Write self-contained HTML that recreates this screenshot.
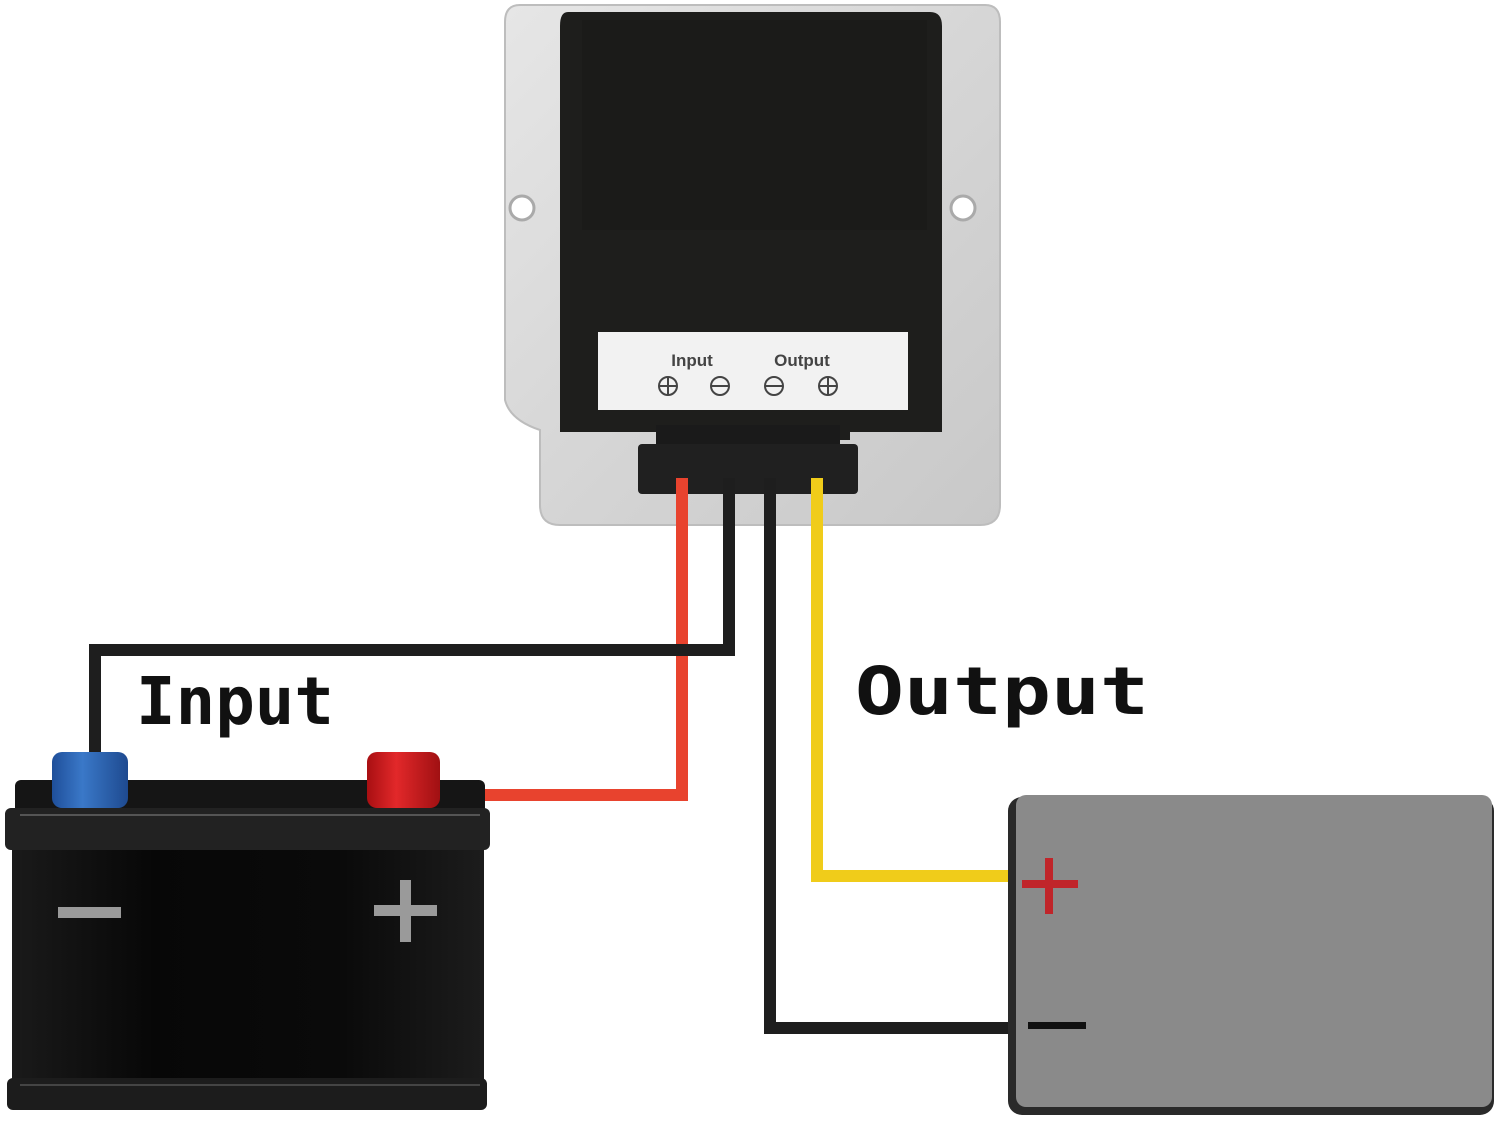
<!DOCTYPE html>
<html><head><meta charset="utf-8"><style>
html,body{margin:0;padding:0;background:#fff;}
svg{display:block;}
</style></head><body>
<svg width="1500" height="1126" viewBox="0 0 1500 1126" xmlns="http://www.w3.org/2000/svg">
<defs>
<linearGradient id="sil" x1="0" y1="0" x2="1" y2="1">
<stop offset="0" stop-color="#e6e6e6"/><stop offset="0.5" stop-color="#d6d6d6"/><stop offset="1" stop-color="#c8c8c8"/>
</linearGradient>
<linearGradient id="bat" x1="0" y1="0" x2="1" y2="0">
<stop offset="0" stop-color="#1a1a1a"/><stop offset="0.3" stop-color="#070707"/><stop offset="0.7" stop-color="#0a0a0a"/><stop offset="1" stop-color="#1c1c1c"/>
</linearGradient>
<linearGradient id="blue" x1="0" y1="0" x2="1" y2="0">
<stop offset="0" stop-color="#1f4f9a"/><stop offset="0.4" stop-color="#3a78c8"/><stop offset="1" stop-color="#1e4a90"/>
</linearGradient>
<linearGradient id="red" x1="0" y1="0" x2="1" y2="0">
<stop offset="0" stop-color="#a80f12"/><stop offset="0.4" stop-color="#e2282a"/><stop offset="1" stop-color="#a01012"/>
</linearGradient>
</defs>

<!-- Converter body -->
<path d="M520,5 H985 Q1000,5 1000,22 V505 Q1000,525 980,525 H560 Q540,525 540,505 V430 Q510,420 505,400 V22 Q505,5 520,5 Z" fill="url(#sil)" stroke="#bdbdbd" stroke-width="2"/>
<circle cx="522" cy="208" r="12" fill="#fff" stroke="#aaa" stroke-width="3"/>
<circle cx="963" cy="208" r="12" fill="#fff" stroke="#aaa" stroke-width="3"/>
<path d="M568,12 H930 Q942,12 942,26 V432 H850 V440 H656 V432 H560 V26 Q560,12 568,12 Z" fill="#1e1e1c"/>
<rect x="582" y="20" width="345" height="210" fill="#1b1b19"/>
<rect x="598" y="332" width="310" height="78" fill="#f2f2f2"/>
<text x="692" y="366" font-family="Liberation Sans, sans-serif" font-size="17" font-weight="bold" fill="#444" text-anchor="middle">Input</text>
<text x="802" y="366" font-family="Liberation Sans, sans-serif" font-size="17" font-weight="bold" fill="#444" text-anchor="middle">Output</text>
<g stroke="#444" stroke-width="2" fill="none">
<circle cx="668" cy="386" r="9"/><line x1="659" y1="386" x2="677" y2="386"/><line x1="668" y1="377" x2="668" y2="395"/>
<circle cx="720" cy="386" r="9"/><line x1="711" y1="386" x2="729" y2="386"/>
<circle cx="774" cy="386" r="9"/><line x1="765" y1="386" x2="783" y2="386"/>
<circle cx="828" cy="386" r="9"/><line x1="819" y1="386" x2="837" y2="386"/><line x1="828" y1="377" x2="828" y2="395"/>
</g>
<rect x="656" y="425" width="184" height="30" fill="#1a1a1a"/>
<rect x="638" y="444" width="220" height="50" rx="4" fill="#202020"/>

<!-- wires -->
<g fill="none" stroke-width="12" stroke-linejoin="miter">
<polyline points="682,478 682,795 440,795" stroke="#e8432e"/>
<polyline points="729,478 729,650 95,650 95,760" stroke="#1e1e1e"/>
<polyline points="770,478 770,1028 1008,1028" stroke="#1e1e1e"/>
<polyline points="817,478 817,876 1008,876" stroke="#f0cc1a"/>
</g>

<!-- Battery -->
<rect x="15" y="780" width="470" height="40" rx="6" fill="#151515"/>
<rect x="5" y="808" width="485" height="42" rx="6" fill="#222"/>
<line x1="20" y1="815" x2="480" y2="815" stroke="#555" stroke-width="2"/>
<rect x="12" y="850" width="472" height="245" fill="url(#bat)"/>
<rect x="7" y="1078" width="480" height="32" rx="6" fill="#1c1c1c"/>
<line x1="20" y1="1085" x2="480" y2="1085" stroke="#444" stroke-width="2"/>
<rect x="58" y="907" width="63" height="11" fill="#9a9a9a"/>
<rect x="374" y="905" width="63" height="11" fill="#9a9a9a"/>
<rect x="400" y="880" width="11" height="62" fill="#9a9a9a"/>
<rect x="52" y="752" width="76" height="56" rx="10" fill="url(#blue)"/>
<rect x="367" y="752" width="73" height="56" rx="10" fill="url(#red)"/>

<!-- Output box -->
<rect x="1008" y="797" width="486" height="318" rx="14" fill="#2a2a2a"/>
<rect x="1016" y="795" width="476" height="312" rx="10" fill="#8a8a8a"/>
<rect x="1022" y="880" width="56" height="8" fill="#c0252a"/>
<rect x="1045" y="858" width="8" height="56" fill="#c0252a"/>
<rect x="1028" y="1022" width="58" height="7" fill="#111"/>

<!-- labels -->
<text x="136" y="724" textLength="198" lengthAdjust="spacingAndGlyphs" font-family="DejaVu Sans Mono, Liberation Mono, monospace" font-size="66" font-weight="bold" fill="#111">Input</text>
<text x="855" y="714" textLength="294" lengthAdjust="spacingAndGlyphs" font-family="DejaVu Sans Mono, Liberation Mono, monospace" font-size="66" font-weight="bold" fill="#111">Output</text>
</svg>
</body></html>
